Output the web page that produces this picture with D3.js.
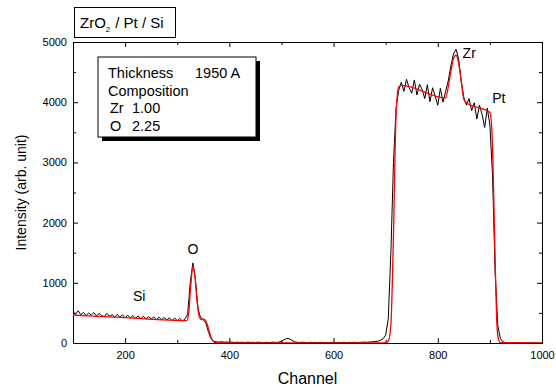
<!DOCTYPE html>
<html>
<head>
<meta charset="utf-8">
<script src="https://cdn.jsdelivr.net/npm/d3@7/dist/d3.min.js"></script>
<style>
  body { margin: 0; background: #fff; }
  svg { font-family: "Liberation Sans", Arial, sans-serif; }
</style>
</head>
<body>
<div id="chart"></div>
<script>
// measured spectrum (black), every 5 channels from 100 to 1000
var measChannels = d3.range(100, 1001, 5)
var measCounts = [
  520, 480, 535, 470, 510, 455, 500, 462, 505, 448,   // 100-145
  490, 455, 440, 492, 445, 470, 432, 475, 428, 468,   // 150-195
  420, 462, 418, 455, 410, 450, 405, 445, 400, 438,   // 200-245
  398, 432, 390, 428, 385, 425, 380, 418, 372, 415,   // 250-295
  370, 410, 365, 400, 480, 1000, 1330, 1050, 560, 420, // 300-345
  390, 330, 180, 70, 30, 20, 15, 22, 12, 18,          // 350-395
  10, 16, 8, 14, 10, 12, 8, 15, 10, 12,               // 400-445
  8, 14, 10, 6, 12, 8, 10, 14, 9, 15,                 // 450-495
  25, 55, 75, 70, 45, 20, 12, 8, 14, 10,              // 500-545
  6, 12, 8, 10, 6, 12, 8, 10, 6, 9,                   // 550-595
  12, 7, 10, 8, 12, 6, 10, 9, 12, 8,                  // 600-645
  10, 12, 15, 12, 18, 20, 25, 30, 45, 70,             // 650-695
  130, 400, 1500, 3000, 3900, 4200, 4330, 4180, 4380, 4240, // 700-745
  4150, 4370, 4120, 4300, 4210, 4060, 4290, 4010, 4240, 4100, // 750-795
  3950, 4230, 4000, 4180, 4350, 4600, 4800, 4880, 4720, 4350, // 800-845
  4080, 3950, 4060, 3860, 3990, 3720, 3950, 3800, 3580, 3900, // 850-895
  3620, 2800, 1200, 300, 80, 20, 5, 3, 2, 1,          // 900-945
  0, 0, 0, 0, 0, 0, 0, 0, 0, 0,                       // 950-995
  0                                                   // 1000
]

// simulated spectrum (red)
var simChannels = [100, 200, 318, 322, 326, 330, 334, 338, 342, 346, 350, 354, 358, 362, 366, 370, 375, 380,
  500, 700, 705, 710, 715, 720, 725, 730, 815, 820, 825, 830, 835, 840, 845, 850, 855,
  900, 904, 907, 910, 913, 916, 920, 1000]
var simCounts = [465, 420, 372, 500, 950, 1280, 1100, 700, 450, 390, 395, 380, 300, 170, 70, 20, 5, 2,
  2, 3, 30, 300, 1800, 3800, 4250, 4280, 4070, 4250, 4500, 4720, 4780, 4650, 4350, 4050, 3990,
  3830, 3500, 2600, 1400, 400, 80, 5, 0]

var xMajor = [200, 400, 600, 800, 1000]
var xMinor = [100, 300, 500, 700, 900]
var yMajor = [0, 1000, 2000, 3000, 4000, 5000]
var yMinor = [500, 1500, 2500, 3500, 4500]

var peakLabels = [
  {text: 'Zr', ch: 838, v: 4780},
  {text: 'Pt', ch: 893, v: 3880},
  {text: 'O', ch: 330, v: 1320},
  {text: 'Si', ch: 227, v: 440}
]

var infoLabels = ['Thickness', 'Composition', 'Zr', 'O']
var infoValues = ['1950 A', '', '1.00', '2.25']

var width = 556, height = 387
var plotLeft = 73, plotRight = 542, plotTop = 42, plotBottom = 343

var svg = d3.select('#chart').append('svg')
  .attr('width', width)
  .attr('height', height)

var x = d3.scaleLinear().domain([100, 1000]).range([plotLeft, plotRight])
var y = d3.scaleLinear().domain([0, 5000]).range([plotBottom, plotTop])
var fmt = d3.format('d')

function axisStyle(g) {
  g.select('.domain').attr('stroke', '#000').attr('stroke-width', 1)
  g.selectAll('line').attr('stroke', '#000')
  g.selectAll('text').attr('fill', '#000').style('font-size', '11px')
    .style('font-family', '"Liberation Sans", Arial, sans-serif')
}

// minor ticks
svg.append('g').attr('transform', 'translate(0,' + plotBottom + ')')
  .call(d3.axisBottom(x).tickValues(xMinor).tickSize(-3).tickFormat(''))
  .call(axisStyle)
svg.append('g').attr('transform', 'translate(0,' + plotTop + ')')
  .call(d3.axisTop(x).tickValues(xMinor).tickSize(-3).tickFormat(''))
  .call(axisStyle)
svg.append('g').attr('transform', 'translate(' + plotLeft + ',0)')
  .call(d3.axisLeft(y).tickValues(yMinor).tickSize(-3).tickFormat(''))
  .call(axisStyle)
svg.append('g').attr('transform', 'translate(' + plotRight + ',0)')
  .call(d3.axisRight(y).tickValues(yMinor).tickSize(-3).tickFormat(''))
  .call(axisStyle)

// major ticks
svg.append('g').attr('transform', 'translate(0,' + plotBottom + ')')
  .call(d3.axisBottom(x).tickValues(xMajor).tickSize(-5).tickPadding(8).tickFormat(fmt))
  .call(axisStyle)
svg.append('g').attr('transform', 'translate(0,' + plotTop + ')')
  .call(d3.axisTop(x).tickValues(xMajor).tickSize(-5).tickFormat(''))
  .call(axisStyle)
svg.append('g').attr('transform', 'translate(' + plotLeft + ',0)')
  .call(d3.axisLeft(y).tickValues(yMajor).tickSize(-5).tickPadding(6).tickFormat(fmt))
  .call(axisStyle)
svg.append('g').attr('transform', 'translate(' + plotRight + ',0)')
  .call(d3.axisRight(y).tickValues(yMajor).tickSize(-5).tickFormat(''))
  .call(axisStyle)

svg.append('clipPath').attr('id', 'plot-clip')
  .append('rect').attr('x', plotLeft).attr('y', plotTop)
  .attr('width', plotRight - plotLeft).attr('height', plotBottom - plotTop)

var measLine = d3.line()
  .x(function(d, i) { return x(measChannels[i]) })
  .y(function(d) { return y(d) })

var simLine = d3.line()
  .x(function(d, i) { return x(simChannels[i]) })
  .y(function(d) { return y(d) })
  .curve(d3.curveMonotoneX)

svg.append('path')
  .attr('d', measLine(measCounts))
  .attr('clip-path', 'url(#plot-clip)')
  .attr('fill', 'none')
  .attr('stroke', '#000')
  .attr('stroke-width', 1)

svg.append('path')
  .attr('d', simLine(simCounts))
  .attr('clip-path', 'url(#plot-clip)')
  .attr('fill', 'none')
  .attr('stroke', '#f00')
  .attr('stroke-width', 1.3)

// peak labels
var offsets = {'Zr': [5, 3], 'Pt': [6, -6], 'O': [0, -10], 'Si': [0, -16]}
svg.selectAll('.peak-label').data(peakLabels).enter().append('text')
  .attr('class', 'peak-label')
  .attr('x', function(d) { return x(d.ch) + offsets[d.text][0] })
  .attr('y', function(d) { return y(d.v) + offsets[d.text][1] })
  .attr('text-anchor', function(d) { return (d.text == 'Zr' || d.text == 'Pt') ? 'start' : 'middle' })
  .style('font-size', '14px')
  .text(function(d) { return d.text })

// info box with shadow
svg.append('rect').attr('x', 102).attr('y', 61).attr('width', 158).attr('height', 80).attr('fill', '#000')
svg.append('rect').attr('x', 98).attr('y', 57).attr('width', 158).attr('height', 80)
  .attr('fill', '#fff').attr('stroke', '#000').attr('stroke-width', 1)
svg.selectAll('.info-label').data(infoLabels).enter().append('text')
  .attr('class', 'info-label')
  .attr('x', function(d, i) { return i < 2 ? 108 : 110 })
  .attr('y', function(d, i) { return 78 + i * 17.6 })
  .style('font-size', '14.5px')
  .text(function(d) { return d })
svg.selectAll('.info-value').data(infoValues).enter().append('text')
  .attr('class', 'info-value')
  .attr('x', function(d, i) { return i == 0 ? 195 : 132 })
  .attr('y', function(d, i) { return 78 + i * 17.6 })
  .style('font-size', '14.5px')
  .text(function(d) { return d })

// title box
svg.append('rect').attr('x', 74.5).attr('y', 7.5).attr('width', 101).attr('height', 30)
  .attr('fill', '#fff').attr('stroke', '#000')
var title = svg.append('text').attr('x', 80).attr('y', 28).style('font-size', '15px')
title.append('tspan').text('ZrO')
title.append('tspan').attr('dy', 4).style('font-size', '8px').text('2')
title.append('tspan').attr('dy', -4).attr('dx', 5).text('/ Pt / Si')

// axis titles
svg.append('text').attr('x', (plotLeft + plotRight) / 2).attr('y', 384)
  .attr('text-anchor', 'middle').style('font-size', '16px').text('Channel')
svg.append('text')
  .attr('transform', 'translate(26,' + ((plotTop + plotBottom) / 2) + ') rotate(-90)')
  .attr('text-anchor', 'middle').style('font-size', '14px').text('Intensity (arb. unit)')
</script>
</body>
</html>
